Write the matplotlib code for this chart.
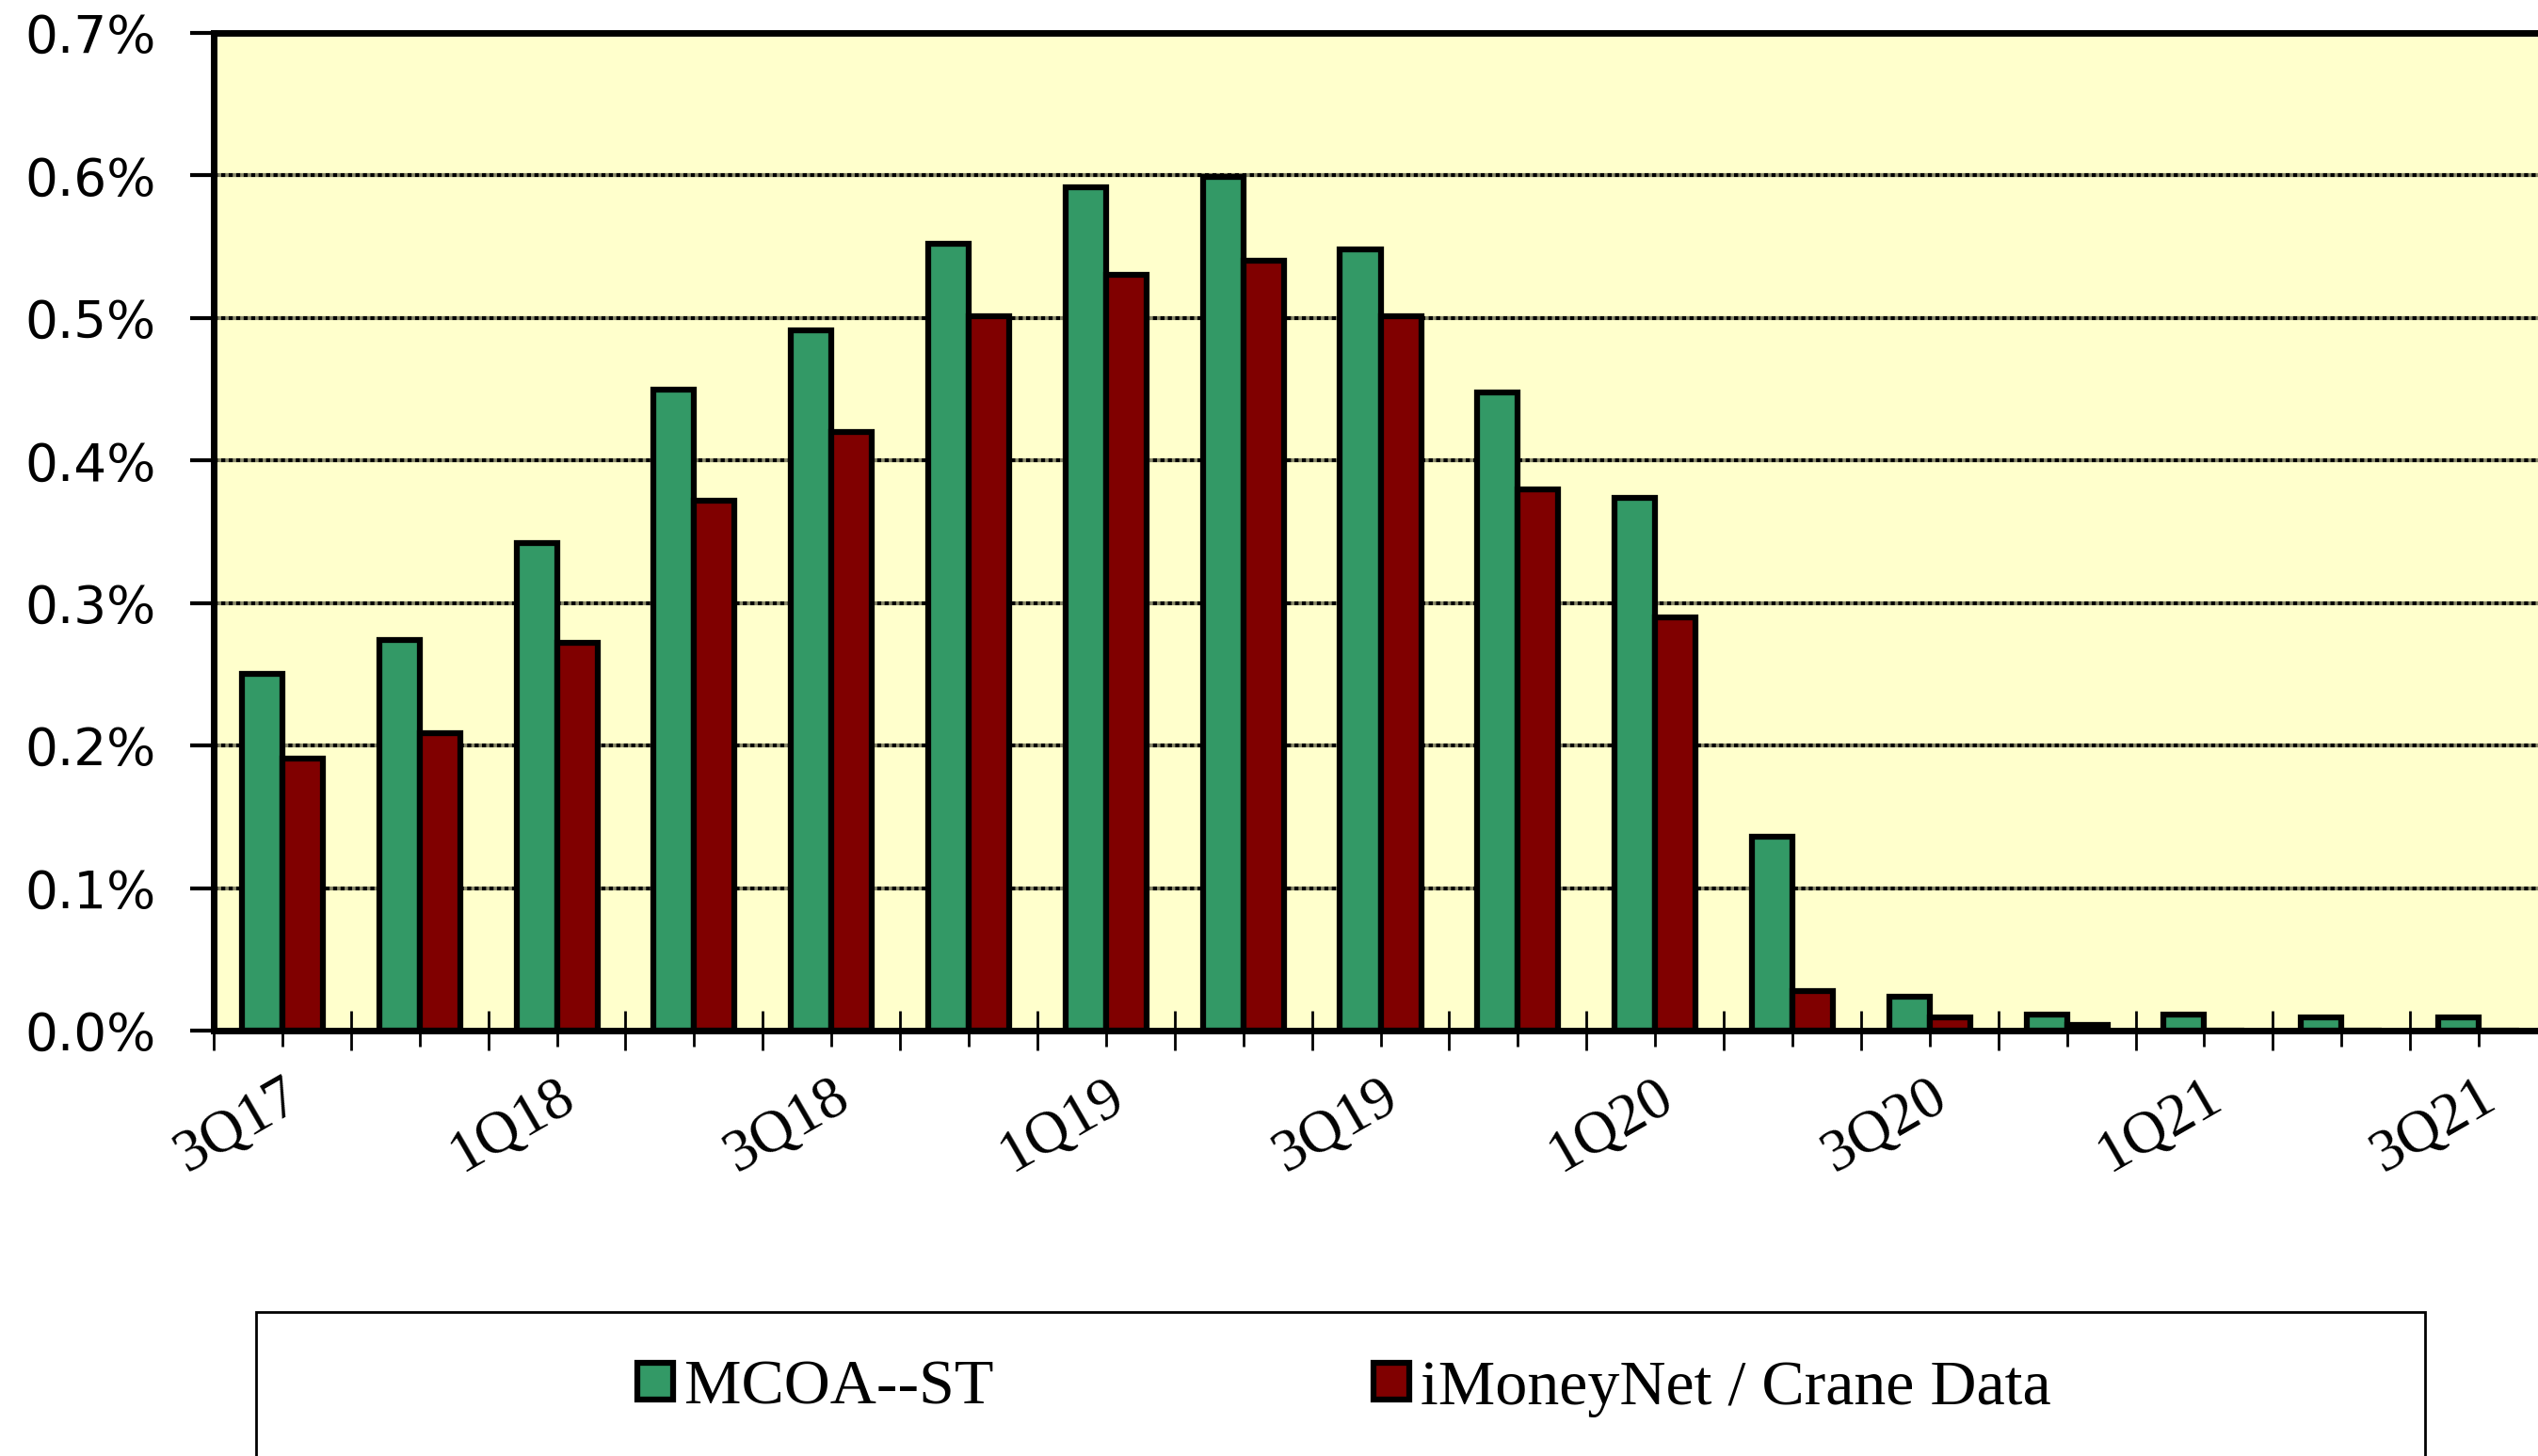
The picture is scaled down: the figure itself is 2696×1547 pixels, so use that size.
import matplotlib
matplotlib.use("Agg")
import matplotlib.pyplot as plt
import numpy as np
from matplotlib.patches import Patch, Rectangle
from matplotlib.ticker import FuncFormatter, FixedLocator

quarters = ["3Q17", "4Q17", "1Q18", "2Q18", "3Q18", "4Q18", "1Q19", "2Q19", "3Q19",
            "4Q19", "1Q20", "2Q20", "3Q20", "4Q20", "1Q21", "2Q21", "3Q21"]
mcoa_st = [0.250, 0.274, 0.342, 0.450, 0.491, 0.552, 0.592, 0.599, 0.548,
           0.448, 0.374, 0.136, 0.024, 0.011, 0.011, 0.009, 0.009]
imoneynet_crane = [0.191, 0.209, 0.272, 0.372, 0.420, 0.501, 0.530, 0.540, 0.501,
                   0.380, 0.290, 0.028, 0.009, 0.004, 0.0, 0.0, 0.0]
series_names = ["MCOA--ST", "iMoneyNet / Crane Data"]
y_ticks = [0.0, 0.1, 0.2, 0.3, 0.4, 0.5, 0.6, 0.7]

GREEN = "#339966"
RED = "#800000"
BG = "#FFFFCC"

W, H = 2696, 1547
fig = plt.figure(figsize=(W / 100, H / 100), dpi=100)
ax = fig.add_axes([227 / W, 1 - 1095 / H, (2706 - 227) / W, (1095 - 35) / H])
ax.set_facecolor(BG)

x = np.arange(len(quarters))
bw = 0.295
ax.bar(x - bw / 2, mcoa_st, width=bw, color=GREEN, edgecolor="black", linewidth=4.5, zorder=3)
ax.bar(x + bw / 2, imoneynet_crane, width=bw, color=RED, edgecolor="black", linewidth=4.5, zorder=3)

ax.set_xlim(-0.5, len(quarters) - 0.5)
ax.set_ylim(0, 0.7)

# y axis
ax.set_yticks(y_ticks)
ax.yaxis.set_major_formatter(FuncFormatter(lambda v, p: f"{v:.1f}%"))
ax.tick_params(axis="y", direction="out", length=18, width=3, pad=26,
               labelsize=39.5, labelfontfamily="DejaVu Sans")
ax.yaxis.grid(True, linestyle=(0, (1.1, 0.8)), color="black", gapcolor="#8a8a6a",
              linewidth=3, zorder=1)
ax.set_axisbelow(True)

# x axis
ax.xaxis.set_major_locator(FixedLocator(x))
ax.set_xticklabels([q if i % 2 == 0 else "" for i, q in enumerate(quarters)],
                   rotation=30, ha="right", rotation_mode="anchor",
                   fontfamily="Liberation Serif", fontsize=46)
ax.xaxis.set_minor_locator(FixedLocator(np.arange(-0.5, len(quarters), 1.0)))
ax.tick_params(axis="x", which="major", direction="out", length=12, width=2, pad=18)
ax.tick_params(axis="x", which="minor", direction="inout", length=30, width=2)

for s in ["left", "bottom", "top", "right"]:
    ax.spines[s].set_linewidth(5)
    ax.spines[s].set_color("black")

# legend frame
fig.patches.append(Rectangle((272 / W, -0.05), (2576 - 272) / W, 0.05 + (1 - 1394 / H),
                             transform=fig.transFigure, facecolor="white",
                             edgecolor="black", linewidth=2, zorder=0))

colors = [GREEN, RED]
xs = [677 / W, 1459 / W]
yc = 1 - 1475 / H
for name, c, xl in zip(series_names, colors, xs):
    fig.legend(handles=[Patch(facecolor=c, edgecolor="black", linewidth=4.5)], labels=[name],
               loc="center left", bbox_to_anchor=(xl, yc), frameon=False,
               borderpad=0, borderaxespad=0, handlelength=0.56, handleheight=0.5,
               handletextpad=0.18, prop={"family": "Liberation Serif", "size": 49})

fig.savefig("out.png", dpi=100)
